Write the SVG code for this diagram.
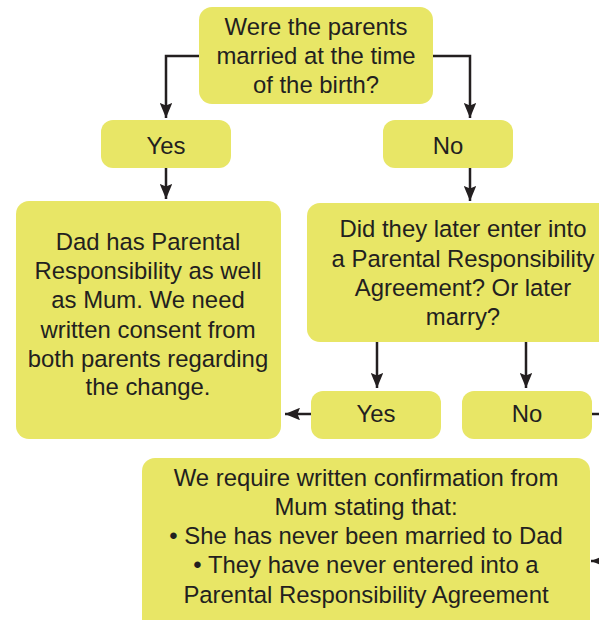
<svg xmlns="http://www.w3.org/2000/svg" width="599" height="620" viewBox="0 0 599 620">
<style>
.box{fill:#e8e666;}
.t{font-family:"Liberation Sans",Arial,sans-serif;font-size:23.9px;fill:#231f20;text-anchor:middle;}
.c{fill:none;stroke:#231f20;stroke-width:2.5;}
</style>
<defs>
<marker id="ah" viewBox="0 0 12 10" refX="12" refY="5" markerWidth="6" markerHeight="5" markerUnits="strokeWidth" orient="auto">
<path d="M0,0 L12,5 L0,10 L2,5 Z" fill="#231f20"/>
</marker>
</defs>
<rect width="599" height="620" fill="#ffffff"/>
<g id="connectors">
<path class="c" d="M199,56 H166 V118" marker-end="url(#ah)"/>
<path class="c" d="M433,56 H470 V118" marker-end="url(#ah)"/>
<path class="c" d="M166,168 V199" marker-end="url(#ah)"/>
<path class="c" d="M470,168 V201" marker-end="url(#ah)"/>
<path class="c" d="M377,342 V388" marker-end="url(#ah)"/>
<path class="c" d="M526,342 V388" marker-end="url(#ah)"/>
<path class="c" d="M311,414 H285" marker-end="url(#ah)"/>
<path class="c" d="M592,414 H605"/>
<path class="c" d="M610,561 H591" marker-end="url(#ah)"/>
</g>
<g id="q1">
<rect class="box" x="199" y="7" width="234" height="97" rx="13"/>
<text class="t" x="316" y="35">Were the parents</text>
<text class="t" x="316" y="64">married at the time</text>
<text class="t" x="316" y="93">of the birth?</text>
</g>
<g id="yes1">
<rect class="box" x="101" y="120" width="130" height="48" rx="12"/>
<text class="t" x="166" y="154">Yes</text>
</g>
<g id="no1">
<rect class="box" x="383" y="120" width="130" height="48" rx="12"/>
<text class="t" x="448" y="154">No</text>
</g>
<g id="dad">
<rect class="box" x="16" y="201" width="265" height="238" rx="13"/>
<text class="t" x="148" y="250">Dad has Parental</text>
<text class="t" x="148" y="279">Responsibility as well</text>
<text class="t" x="148" y="308">as Mum. We need</text>
<text class="t" x="148" y="338">written consent from</text>
<text class="t" x="148" y="367">both parents regarding</text>
<text class="t" x="148" y="395">the change.</text>
</g>
<g id="q2">
<rect class="box" x="307" y="203" width="320" height="139" rx="13"/>
<text class="t" x="463" y="237">Did they later enter into</text>
<text class="t" x="463" y="267">a Parental Responsibility</text>
<text class="t" x="463" y="296">Agreement? Or later</text>
<text class="t" x="463" y="325">marry?</text>
</g>
<g id="yes2">
<rect class="box" x="311" y="391" width="130" height="48" rx="12"/>
<text class="t" x="376" y="422">Yes</text>
</g>
<g id="no2">
<rect class="box" x="462" y="391" width="130" height="48" rx="12"/>
<text class="t" x="527" y="422">No</text>
</g>
<g id="confirm">
<rect class="box" x="142" y="458" width="448" height="180" rx="13"/>
<text class="t" x="366" y="486">We require written confirmation from</text>
<text class="t" x="366" y="515">Mum stating that:</text>
<text class="t" x="366" y="544">• She has never been married to Dad</text>
<text class="t" x="366" y="573">• They have never entered into a</text>
<text class="t" x="366" y="603">Parental Responsibility Agreement</text>
</g>
</svg>
